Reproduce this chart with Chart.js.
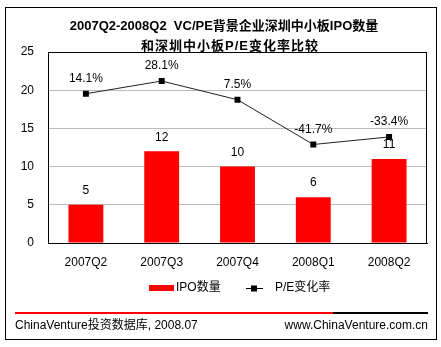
<!DOCTYPE html>
<html>
<head>
<meta charset="utf-8">
<script src="https://cdn.jsdelivr.net/npm/chart.js@4.4.1/dist/chart.umd.min.js"></script>
<style>
  html, body { margin: 0; padding: 0; background: #fff; }
  #wrap { position: relative; width: 441px; height: 347px; }
</style>
</head>
<body>
<div id="wrap"><canvas id="c" width="441" height="347"></canvas></div>
<script>
// Quarters on the x axis
const quarters = ['2007Q2', '2007Q3', '2007Q4', '2008Q1', '2008Q2'];
// Number of IPOs on the Shenzhen SME board with VC/PE backing
const ipoCount = [5, 12, 10, 6, 11];
// Quarter-on-quarter change of the SME board P/E ratio, in percent
const peChange = [14.1, 28.1, 7.5, -41.7, -33.4];
// Left axis ticks
const countTicks = [0, 5, 10, 15, 20, 25];

const titleLines = ['2007Q2-2008Q2  VC/PE背景企业深圳中小板IPO数量', '和深圳中小板P/E变化率比较'];
const seriesNames = ['IPO数量', 'P/E变化率'];
const sourceText = 'ChinaVenture投资数据库, 2008.07';
const siteText = 'www.ChinaVenture.com.cn';

const FONT = '"Liberation Sans", Arial, "Noto Sans CJK SC", sans-serif';
const RED = '#ff0000';

const decor = {
  id: 'decor',
  beforeDraw(chart) {
    const ctx = chart.ctx;
    ctx.save();
    ctx.fillStyle = '#fff';
    ctx.fillRect(0, 0, chart.width, chart.height);
    ctx.restore();
  },
  afterDraw(chart) {
    const ctx = chart.ctx;
    const a = chart.chartArea;
    ctx.save();

    // plot frame
    ctx.strokeStyle = '#000';
    ctx.lineWidth = 1;
    ctx.strokeRect(Math.round(a.left) + 0.5, Math.round(a.top) + 0.5,
                   Math.round(a.right - a.left) - 1, Math.round(a.bottom - a.top));

    // outer frame
    ctx.strokeRect(5.5, 7.5, 431, 332);

    // title
    ctx.fillStyle = '#000';
    ctx.font = 'bold 13px ' + FONT;
    ctx.textAlign = 'center';
    ctx.textBaseline = 'middle';
    ctx.fillText(titleLines[0], 224, 26);
    ctx.letterSpacing = '1px';
    ctx.fillText(titleLines[1], 230, 46);
    ctx.letterSpacing = '0px';

    // value labels
    ctx.font = '12px ' + FONT;
    const barMeta = chart.getDatasetMeta(0);
    barMeta.data.forEach((el, i) => {
      ctx.fillText(String(ipoCount[i]), el.x, el.y - 14);
    });
    const lineMeta = chart.getDatasetMeta(1);
    lineMeta.data.forEach((el, i) => {
      ctx.fillText(peChange[i].toFixed(1) + '%', el.x, el.y - 15);
    });

    // legend
    const ly = 288;
    ctx.fillStyle = RED;
    ctx.fillRect(149, ly - 3, 25, 6);
    ctx.fillStyle = '#000';
    ctx.textAlign = 'left';
    ctx.fillText(seriesNames[0], 176, ly);
    ctx.strokeStyle = '#000';
    ctx.beginPath();
    ctx.moveTo(246, ly + 0.5);
    ctx.lineTo(263, ly + 0.5);
    ctx.stroke();
    ctx.fillRect(251, ly - 2.5, 6, 6);
    ctx.fillText(seriesNames[1], 275, ly);

    // footer rule
    ctx.fillStyle = RED;
    ctx.fillRect(15, 312, 318, 2);
    ctx.fillStyle = '#000';
    ctx.fillRect(333, 312, 95, 2);

    // footer text
    ctx.textAlign = 'left';
    ctx.fillText(sourceText, 15, 326);
    ctx.textAlign = 'right';
    ctx.fillText(siteText, 428, 326);

    ctx.restore();
  }
};

new Chart(document.getElementById('c'), {
  data: {
    labels: quarters,
    datasets: [
      {
        type: 'bar',
        label: seriesNames[0],
        data: ipoCount,
        backgroundColor: RED,
        borderWidth: 0,
        barPercentage: 0.46,
        categoryPercentage: 1,
        yAxisID: 'y',
        order: 2
      },
      {
        type: 'line',
        label: seriesNames[1],
        data: peChange,
        borderColor: '#222',
        borderWidth: 1,
        pointStyle: 'rect',
        pointRadius: 4.2,
        pointBackgroundColor: '#000',
        pointBorderWidth: 0,
        tension: 0,
        yAxisID: 'y1',
        order: 1
      }
    ]
  },
  options: {
    responsive: false,
    animation: false,
    devicePixelRatio: 1,
    layout: { padding: { left: 0, top: 52, right: 14, bottom: 74 } },
    plugins: {
      legend: { display: false },
      title: { display: false },
      tooltip: { enabled: false }
    },
    scales: {
      x: {
        offset: true,
        grid: { display: false, drawTicks: false },
        border: { display: true, color: '#000' },
        ticks: { color: '#000', font: { size: 12, family: FONT }, padding: 12, maxRotation: 0 },
        afterFit(s) { s.height = 30; }
      },
      y: {
        min: 0,
        max: 25,
        afterBuildTicks(s) { s.ticks = countTicks.map(v => ({ value: v })); },
        grid: { color: '#bbbbbb', drawTicks: false },
        border: { display: true, color: '#000' },
        ticks: { color: '#000', font: { size: 12, family: FONT }, padding: 14 },
        afterFit(s) { s.width = 48; }
      },
      y1: {
        display: false,
        min: -150,
        max: 60
      }
    }
  },
  plugins: [decor]
});
</script>
</body>
</html>
